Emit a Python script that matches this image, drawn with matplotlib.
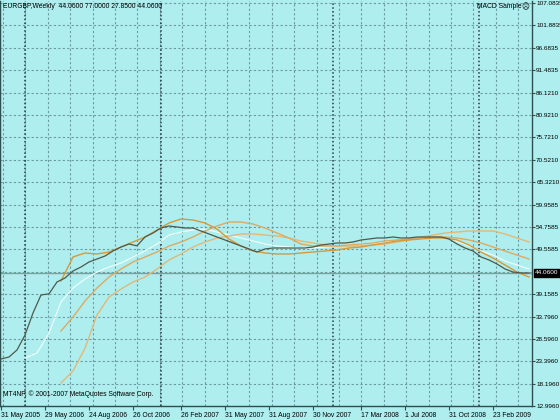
import matplotlib
matplotlib.use("Agg")
import matplotlib.pyplot as plt
import matplotlib.transforms as mtransforms
import numpy as np

plt.rcParams['font.family'] = ['Liberation Sans', 'DejaVu Sans']

# weekly close, one value every 2 bars (bar 0 .. 132)
price = [23.98, 24.44, 26.08, 29.58, 34.72, 38.92, 39.20, 41.96, 42.89, 44.53,
         45.46, 46.63, 47.33, 48.03, 49.20, 50.13, 50.83, 50.40, 52.47, 53.40,
         54.57, 55.04, 54.80, 54.57, 54.57, 53.87, 53.17, 52.47, 51.77, 51.07,
         50.37, 49.67, 48.96, 49.67, 49.90, 49.90, 49.90, 49.90, 49.90, 50.13,
         50.60, 50.83, 51.07, 51.07, 51.30, 51.77, 52.00, 52.24, 52.24, 52.47,
         52.24, 52.24, 52.47, 52.47, 52.47, 52.47, 52.00, 50.83, 49.90, 49.20,
         47.80, 47.10, 46.16, 45.00, 44.29, 44.06, 44.06]
price_start, price_step = 0, 2

# moving averages, one value every 3 bars
ma_white = [24.21, 25.37, 30.00, 37.30, 40.56, 42.66, 44.29, 45.46, 46.39, 47.80,
            49.20, 50.83, 52.93, 53.63, 54.10, 54.34, 53.63, 52.93, 52.23, 51.53,
            50.83, 50.36, 50.13, 49.90, 49.90, 50.13, 50.36, 50.60, 50.83, 51.07,
            51.30, 51.53, 51.77, 52.00, 52.23, 52.23, 51.53, 50.36, 49.20, 48.26,
            46.86, 45.93, 44.99]
white_start = 6

ma_fast = [42.19, 47.80, 48.73, 48.50, 48.96, 50.13, 51.30, 52.47, 54.10, 55.74,
           56.67, 56.44, 55.74, 54.34, 52.00, 50.36, 49.20, 48.73, 48.50, 48.50,
           48.73, 48.96, 49.20, 49.43, 49.90, 50.13, 50.60, 51.07, 51.53, 51.77,
           52.00, 52.23, 52.23, 51.77, 50.60, 48.96, 47.56, 45.93, 44.29, 43.12]
ma_mid = [30.51, 33.78, 37.52, 40.56, 43.12, 44.99, 46.63, 47.80, 48.96, 50.36,
          51.30, 52.47, 53.87, 55.04, 55.97, 55.97, 55.50, 54.57, 53.40, 52.23,
          50.83, 50.36, 50.36, 50.36, 50.60, 50.83, 51.07, 51.53, 51.77, 52.00,
          52.23, 52.47, 52.47, 52.23, 51.77, 51.07, 50.13, 49.20, 48.26, 47.33]
ma_slow = [18.37, 21.17, 26.50, 34.25, 38.45, 40.32, 41.96, 43.12, 44.99, 47.10,
           48.50, 50.13, 51.30, 52.23, 52.70, 53.17, 53.17, 52.93, 52.70, 52.23,
           51.53, 51.07, 50.60, 50.36, 50.36, 50.36, 50.60, 50.83, 51.30, 51.77,
           52.47, 52.93, 53.40, 53.63, 53.87, 53.87, 53.87, 53.17, 52.23, 51.30]
ma_start, ma_step = 15, 3

ytick_vals = [107.0835, 101.8835, 96.6835, 91.4835, 86.1210, 80.9210, 75.7210,
              70.5210, 65.3210, 59.9585, 54.7585, 49.5585, 39.1585, 33.7960,
              28.5960, 23.3960, 18.1960, 12.9960]
date_bars = [0, 11, 22, 33, 45, 56, 67, 78, 90, 101, 112, 123]
date_labels = ['31 May 2005', '29 May 2006', '24 Aug 2006', '26 Oct 2006',
               '26 Feb 2007', '31 May 2007', '31 Aug 2007', '30 Nov 2007',
               '17 Mar 2008', '1 Jul 2008', '31 Oct 2008', '23 Feb 2009']
separators = [6, 40, 83, 119.5]
last_price = 44.06

bg = '#afeeee'
fs = 4.9
fig = plt.figure(figsize=(5.6, 4.2), dpi=100, facecolor=bg)
ax = fig.add_axes([0, 14 / 420, 532 / 560, 405 / 420])
ax.set_facecolor(bg)
ax.set_xlim(-0.25, 132.75)
ax.set_ylim(12.996, 107.588)

# grid
for v in ytick_vals + [44.3585]:
    ax.axhline(v, color='#6a9aa6', lw=0.8, ls=(0, (2, 2)), zorder=0)
for xb in np.arange(0.5, 132, 5.6):
    ax.axvline(xb, color='#6a9aa6', lw=0.8, ls=(0, (2, 2)), zorder=0)
for xb in separators:
    ax.axvline(xb, color='#2a3a40', lw=1.1, ls=(0, (1, 1.5)), zorder=0)

ax.axhline(last_price, color='#8a9a9c', lw=1.0, zorder=1)


def xs(start, step, vals):
    return start + step * np.arange(len(vals))


ax.plot(xs(white_start, ma_step, ma_white), ma_white, color='#f4ffff', lw=0.8, zorder=2)
ax.plot(xs(ma_start, ma_step, ma_slow), ma_slow, color='#e2b878', lw=1.0, zorder=2)
ax.plot(xs(ma_start, ma_step, ma_mid), ma_mid, color='#dcaa62', lw=1.0, zorder=2)
ax.plot(xs(ma_start, ma_step, ma_fast), ma_fast, color='#d69a3a', lw=1.0, zorder=2)
ax.plot(xs(price_start, price_step, price), price, color='#4d5a4c', lw=0.9, zorder=3)

# axes frame
for s in ['left', 'right', 'bottom']:
    ax.spines[s].set_color('#2f4f4f')
    ax.spines[s].set_linewidth(1.0)
ax.spines['top'].set_visible(False)

ax.yaxis.tick_right()
ax.set_yticks(ytick_vals)
ax.set_yticklabels(['%.4f' % v for v in ytick_vals])
ax.tick_params(axis='y', length=2.5, width=0.8, color='#2f4f4f', pad=0.5,
               labelsize=4.6, labelcolor='black')
ax.set_xticks(date_bars)
ax.set_xticklabels(date_labels, ha='left')
ax.tick_params(axis='x', length=3, width=0.8, color='#2f4f4f', pad=1.5,
               labelsize=fs, labelcolor='black')

# current price box
trans = mtransforms.blended_transform_factory(ax.transAxes, ax.transData)
ax.text(1.006, last_price, '44.0600', transform=trans, ha='left', va='center',
        fontsize=4.6, color='white',
        bbox=dict(boxstyle='square,pad=0.2', fc='black', ec='black'))

fig.text(3 / 560, 1 - 7 / 420, 'EURGBP,Weekly  44.0600 77.0000 27.8500 44.0600',
         ha='left', va='center', fontsize=fs, color='black')
fig.text(477 / 560, 1 - 7 / 420, 'MACD Sample', ha='left', va='center',
         fontsize=fs, color='black')
fig.text(521 / 560, 1 - 7 / 420, '\u2639', ha='left', va='center',
         fontsize=5.5, color='black', family=['DejaVu Sans'])
fig.text(3 / 560, 1 - 394 / 420, 'MT4NP, \u00a9 2001-2007 MetaQuotes Software Corp.',
         ha='left', va='center', fontsize=fs, color='black')

fig.savefig('out.png', dpi=100, facecolor=bg)
